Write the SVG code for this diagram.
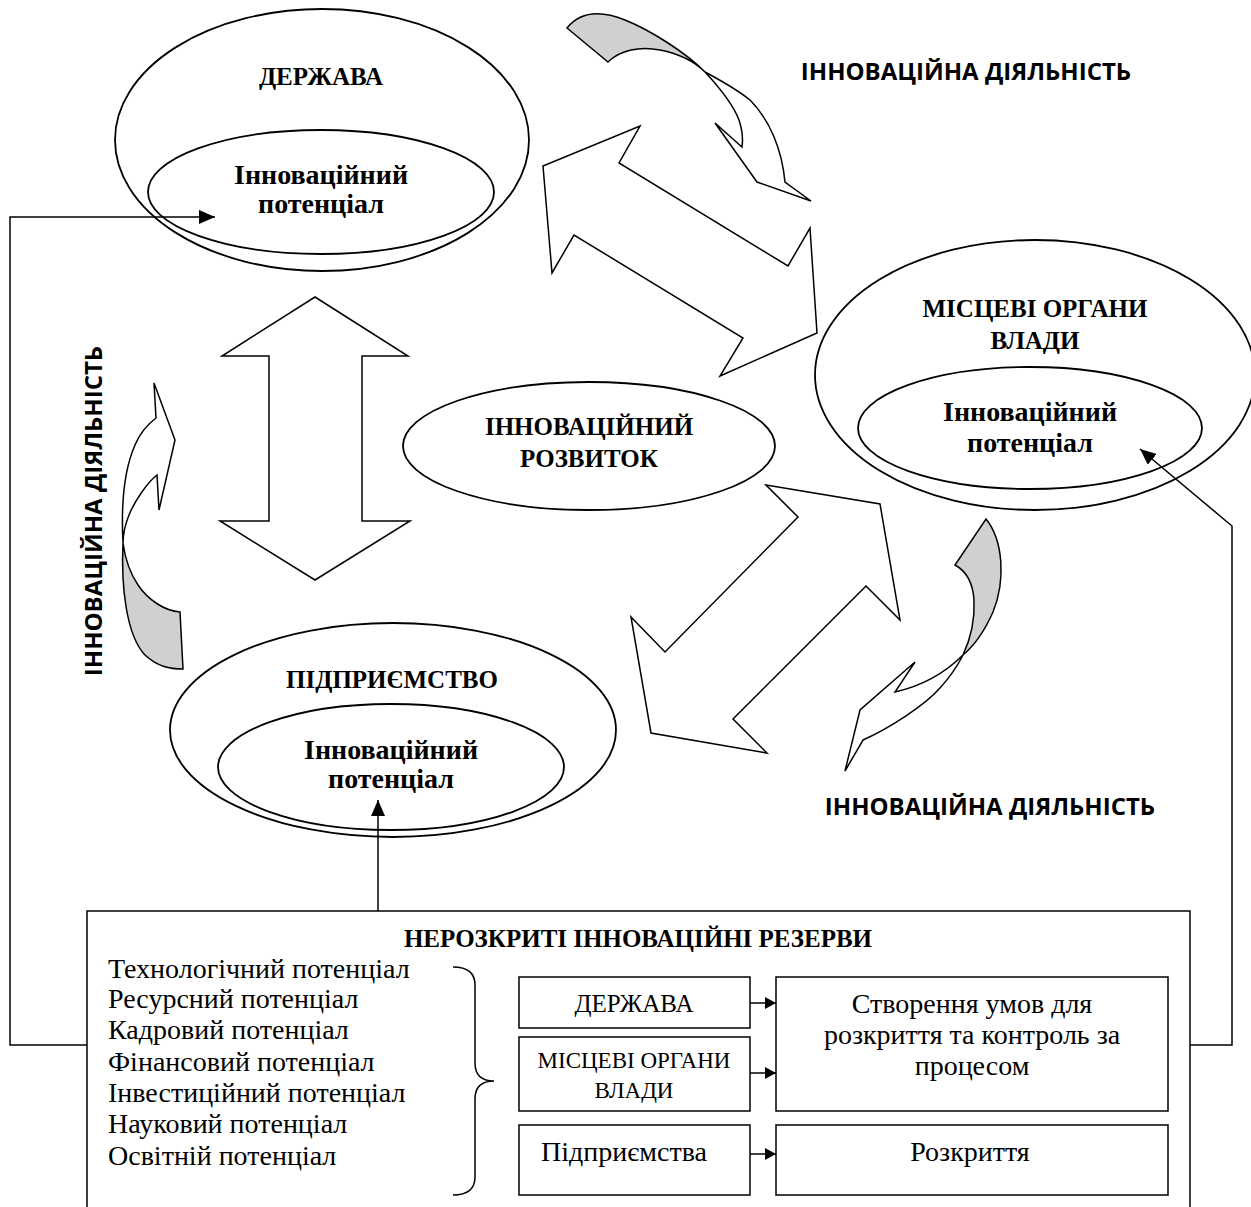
<svg xmlns="http://www.w3.org/2000/svg" width="1251" height="1207" viewBox="0 0 1251 1207">
<defs>
<style>
.ell{fill:none;stroke:#000;stroke-width:1.8}
.shp{fill:#fff;stroke:#000;stroke-width:1.5;stroke-linejoin:miter}
.gry{fill:#d0d0d0;stroke:#000;stroke-width:1.5}
.box{fill:#fff;stroke:#000;stroke-width:1.5}
.con{fill:none;stroke:#000;stroke-width:1.5}
.hb{font-family:"Liberation Serif","Times New Roman",serif;font-weight:bold;font-size:25px;text-anchor:middle;fill:#000}
.lb{font-family:"Liberation Serif","Times New Roman",serif;font-weight:bold;font-size:28px;text-anchor:middle;fill:#000}
.rg{font-family:"Liberation Serif","Times New Roman",serif;font-size:28px;fill:#000}
.rc{font-family:"Liberation Serif","Times New Roman",serif;font-size:28px;text-anchor:middle;fill:#000}
.rcc{font-family:"Liberation Serif","Times New Roman",serif;font-size:23px;text-anchor:middle;fill:#000}
.rcd{font-family:"Liberation Serif","Times New Roman",serif;font-size:25px;text-anchor:middle;fill:#000}
.sb{font-family:"Open Sans","Liberation Sans",sans-serif;font-weight:bold;font-size:24px;text-anchor:middle;fill:#000}
</style>
<marker id="ah" markerWidth="16" markerHeight="14" refX="16" refY="7" orient="auto" markerUnits="userSpaceOnUse"><path d="M0,0 L16,7 L0,14 Z" fill="#000"/></marker>
<marker id="as" markerWidth="11" markerHeight="12" refX="11" refY="6" orient="auto" markerUnits="userSpaceOnUse"><path d="M0,0 L11,6 L0,12 Z" fill="#000"/></marker>
</defs>
<rect width="1251" height="1207" fill="#fff"/>

<g id="arrows-shapes">
<polygon class="shp" points="315,297 408,356 362,356 362,521 410,521 315,580 220,521 269,521 269,356 222,356"/>
<polygon class="shp" points="543,166 640,126 619,163 788,266 810,228 817,333 720,376 743,338 574,235 552,273"/>
<polygon class="shp" points="766,485 880,504 900,620 866,586 733,719 767,753 651,733 631,617 665,652 798,517"/>
<path class="gry" d="M567,28 C580,12 600,10 625,20 C650,30 685,52 705,72 C695,62 680,54 660,50 C640,46 620,50 608,62 Z"/>
<path class="shp" d="M705,72 C718,86 733,104 739,120 C743,132 743,140 742,147 L715,123 L757,182 L811,201 L785,182 C782,150 770,120 750,100 C735,88 720,80 705,72 Z"/>
<path class="gry" d="M123,543 C121,585 126,635 145,655 C158,667 170,669 183,669 L180,612 C165,611 148,600 138,585 C130,573 125,558 123,543 Z"/>
<path class="shp" d="M123,543 C121,505 124,470 135,445 C140,433 148,424 156,418 L154,383 L175,440 L159,510 L157,475 C148,482 135,500 129,515 C125,525 123,535 123,543 Z"/>
<path class="gry" d="M986,519 C1003,540 1006,580 993,612 C985,630 975,645 963,655 C970,640 975,620 974,600 C973,585 968,572 955,565 Z"/>
<path class="shp" d="M963,655 C950,668 930,684 895,692 L915,662 L860,710 L845,771 L863,740 C890,728 925,705 940,688 C950,677 958,665 963,655 Z"/>
</g>

<g id="node-derzhava">
<ellipse class="ell" cx="322" cy="140" rx="207" ry="131"/>
<ellipse class="ell" cx="321" cy="192" rx="173" ry="62"/>
<text class="hb" x="321" y="85">ДЕРЖАВА</text>
<text class="lb" x="321" y="184">Інноваційний</text>
<text class="lb" x="321" y="213">потенціал</text>
</g>

<g id="node-mistsevi">
<ellipse class="ell" cx="1035" cy="375" rx="220" ry="135"/>
<ellipse class="ell" cx="1030" cy="428" rx="172" ry="61"/>
<text class="hb" x="1035" y="317">МІСЦЕВІ ОРГАНИ</text>
<text class="hb" x="1035" y="349">ВЛАДИ</text>
<text class="lb" x="1030" y="421">Інноваційний</text>
<text class="lb" x="1030" y="452">потенціал</text>
</g>

<g id="node-rozvytok">
<ellipse class="ell" cx="589" cy="446" rx="186" ry="64"/>
<text class="hb" x="589" y="435">ІННОВАЦІЙНИЙ</text>
<text class="hb" x="589" y="467">РОЗВИТОК</text>
</g>

<g id="node-pidpryiemstvo">
<ellipse class="ell" cx="393" cy="730" rx="223" ry="107"/>
<ellipse class="ell" cx="391" cy="767" rx="173" ry="63"/>
<text class="hb" x="392" y="688">ПІДПРИЄМСТВО</text>
<text class="lb" x="391" y="759">Інноваційний</text>
<text class="lb" x="391" y="788">потенціал</text>
</g>

<g id="labels">
<text class="sb" x="966" y="80">ІННОВАЦІЙНА ДІЯЛЬНІСТЬ</text>
<text class="sb" x="990" y="815">ІННОВАЦІЙНА ДІЯЛЬНІСТЬ</text>
<text class="sb" transform="translate(102,511) rotate(-90)">ІННОВАЦІЙНА ДІЯЛЬНІСТЬ</text>
</g>

<g id="node-reserves">
<rect class="box" x="87" y="911" width="1103" height="310"/>
<text class="hb" x="638" y="947">НЕРОЗКРИТІ ІННОВАЦІЙНІ РЕЗЕРВИ</text>
<text class="rg" x="108" y="978">Технологічний потенціал</text>
<text class="rg" x="108" y="1008">Ресурсний потенціал</text>
<text class="rg" x="108" y="1039">Кадровий потенціал</text>
<text class="rg" x="108" y="1071">Фінансовий потенціал</text>
<text class="rg" x="108" y="1102">Інвестиційний потенціал</text>
<text class="rg" x="108" y="1133">Науковий потенціал</text>
<text class="rg" x="108" y="1165">Освітній потенціал</text>
<path class="con" d="M453,967 Q475,967 475,985 L475,1063 Q475,1081 494,1081 Q475,1081 475,1099 L475,1177 Q475,1195 453,1195"/>
</g>

<g id="node-box-derzhava">
<rect class="box" x="519" y="977" width="231" height="51"/>
<text class="rcd" x="634" y="1012">ДЕРЖАВА</text>
</g>
<g id="node-box-mistsevi">
<rect class="box" x="519" y="1037" width="231" height="74"/>
<text class="rcc" x="634" y="1068">МІСЦЕВІ ОРГАНИ</text>
<text class="rcc" x="634" y="1098">ВЛАДИ</text>
</g>
<g id="node-box-pidpr">
<rect class="box" x="519" y="1125" width="231" height="70"/>
<text class="rc" x="624" y="1161">Підприємства</text>
</g>
<g id="node-box-stvorennia">
<rect class="box" x="776" y="977" width="392" height="134"/>
<text class="rc" x="972" y="1013">Створення умов для</text>
<text class="rc" x="972" y="1044">розкриття та контроль за</text>
<text class="rc" x="972" y="1075">процесом</text>
</g>
<g id="node-box-rozkryttia">
<rect class="box" x="776" y="1125" width="392" height="70"/>
<text class="rc" x="970" y="1161">Розкриття</text>
</g>

<g id="connectors">
<polyline class="con" points="87,1045 10,1045 10,217 215,217" marker-end="url(#ah)"/>
<polyline class="con" points="1190,1045 1232,1045 1232,526 1140,449" marker-end="url(#ah)"/>
<line class="con" x1="378" y1="911" x2="378" y2="800" marker-end="url(#ah)"/>
<line class="con" x1="750" y1="1003" x2="776" y2="1003" marker-end="url(#as)"/>
<line class="con" x1="750" y1="1073" x2="776" y2="1073" marker-end="url(#as)"/>
<line class="con" x1="750" y1="1154" x2="776" y2="1154" marker-end="url(#as)"/>
</g>
</svg>
